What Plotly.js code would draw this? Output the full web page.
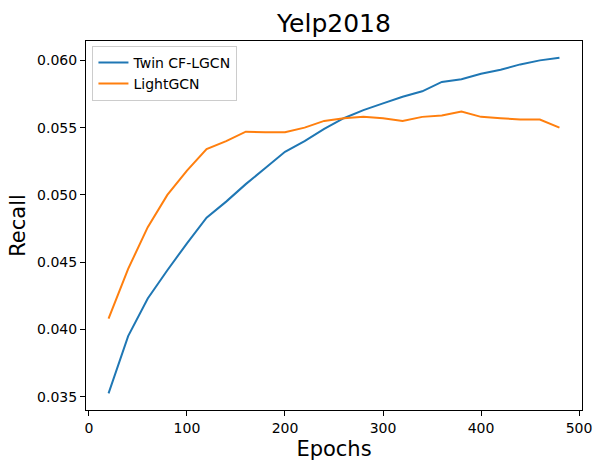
<!DOCTYPE html>
<html>
<head>
<meta charset="utf-8">
<script src="https://cdn.plot.ly/plotly-3.0.1.min.js"></script>
<style>
  html, body { margin: 0; padding: 0; background: #fff; }
  #chart { width: 601px; height: 469px; }
</style>
</head>
<body>
<div id="chart"></div>
<script>
const epochs = [20, 40, 60, 80, 100, 120, 140, 160, 180, 200, 220, 240,
                260, 280, 300, 320, 340, 360, 380, 400, 420, 440, 460, 480];
const twinRecall = [0.03525, 0.0395, 0.0423, 0.0444, 0.0464, 0.0483, 0.0495, 0.0508,
                    0.0520, 0.0532, 0.0540, 0.0549, 0.0557, 0.0563, 0.0568, 0.0573,
                    0.0577, 0.0584, 0.0586, 0.0590, 0.0593, 0.0597, 0.0600, 0.0602];
const lightRecall = [0.0408, 0.0445, 0.0476, 0.0500, 0.0518, 0.0534, 0.0540, 0.0547,
                     0.05465, 0.05465, 0.0550, 0.0555, 0.0557, 0.0558, 0.0557, 0.0555,
                     0.0558, 0.0559, 0.0562, 0.0558, 0.0557, 0.0556, 0.0556, 0.0550];
const xTicks = [0, 100, 200, 300, 400, 500];
const yTicks = [0.035, 0.040, 0.045, 0.050, 0.055, 0.060];

const font = "DejaVu Sans, sans-serif";

const traceTwin = {
    x: epochs,
    y: twinRecall,
    mode: "lines",
    type: "scatter",
    name: "Twin CF-LGCN",
    line: { color: "#1f77b4", width: 2 }
};

const traceLight = {
    x: epochs,
    y: lightRecall,
    mode: "lines",
    type: "scatter",
    name: "LightGCN",
    line: { color: "#ff7f0e", width: 2 }
};

const axisStyle = {
    showgrid: false,
    zeroline: false,
    showline: true,
    mirror: true,
    linecolor: "#000",
    linewidth: 1,
    ticks: "outside",
    ticklen: 5,
    tickwidth: 1,
    tickcolor: "#000",
    tickfont: { family: font, size: 14, color: "#000" }
};

const layout = {
    width: 601,
    height: 469,
    margin: { l: 86, r: 19, t: 41, b: 59 },
    paper_bgcolor: "#fff",
    plot_bgcolor: "#fff",
    font: { family: font, color: "#000" },
    title: {
        text: "Yelp2018",
        font: { family: font, size: 25, color: "#000" },
        x: 0.5, xref: "paper",
        y: 1, yref: "paper", yanchor: "bottom",
        pad: { b: 9 }
    },
    xaxis: Object.assign({}, axisStyle, {
        range: [-3, 503],
        tickvals: xTicks,
        ticktext: xTicks.map(String),
        title: { text: "Epochs", font: { family: font, size: 21, color: "#000" }, standoff: 6 }
    }),
    yaxis: Object.assign({}, axisStyle, {
        range: [0.03401, 0.06144],
        tickvals: yTicks,
        ticktext: yTicks.map(v => v.toFixed(3)),
        title: { text: "Recall", font: { family: font, size: 21, color: "#000" }, standoff: 5 }
    }),
    showlegend: true,
    legend: {
        x: 0.013, y: 0.987,
        xanchor: "left", yanchor: "top",
        bgcolor: "rgba(255,255,255,0.8)",
        bordercolor: "#ccc",
        borderwidth: 1,
        font: { family: font, size: 14, color: "#000" },
        tracegroupgap: 0
    }
};

Plotly.newPlot("chart", [traceTwin, traceLight], layout, { displayModeBar: false, staticPlot: true });
</script>
</body>
</html>
